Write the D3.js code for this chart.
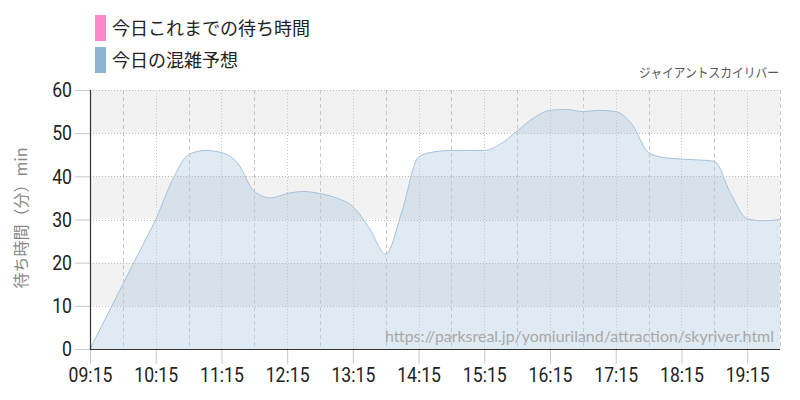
<!DOCTYPE html>
<html>
<head>
<meta charset="utf-8">
<script src="https://cdn.jsdelivr.net/npm/d3@7"></script>
<style>
  html, body { margin: 0; padding: 0; background: #fff; }
  svg { display: block; }
</style>
</head>
<body>
<div id="chart"></div>
<script>
// ---- data ----
const times = ["09:15","09:30","09:45","10:00","10:15","10:30","10:45","11:00","11:15","11:30","11:45","12:00","12:15","12:30","12:45","13:00","13:15","13:30","13:45","14:00","14:15","14:30","14:45","15:00","15:15","15:30","15:45","16:00","16:15","16:30","16:45","17:00","17:15","17:30","17:45","18:00","18:15","18:30","18:45","19:00","19:15","19:30","19:45"];
const forecast = [0,7.5,15,22.5,30,39,45,46,45.5,43,36.5,35,36,36.5,36,35,33,28,22,32,44.5,45.7,46,46,46,47.5,50.5,53.5,55.3,55.5,55,55.3,55,52,45.5,44.3,44,43.8,43.5,36,30.2,29.7,30];
const actual = []; // 今日これまでの待ち時間 (no data yet)
const xTickLabels = ["09:15","10:15","11:15","12:15","13:15","14:15","15:15","16:15","17:15","18:15","19:15"];
const yTicks = [0,10,20,30,40,50,60];
const legendLabels = ["今日これまでの待ち時間","今日の混雑予想"];
const legendColors = ["#ff88c8","#8fb2d0"];
const attractionName = "ジャイアントスカイリバー";
const sourceUrl = "https://parksreal.jp/yomiuriland/attraction/skyriver.html";
const yTitle = "待ち時間（分）min";

// ---- helpers ----
const toMin = s => { const [h,m] = s.split(":").map(Number); return h*60+m; };

const W = 800, H = 400;
const L = 90, R = 780, T = 90, B = 349;
const SX = 0.84; // horizontal condense of tick numbers

const svg = d3.select("#chart").append("svg").attr("width", W).attr("height", H);

const x = d3.scaleLinear().domain([toMin("09:15"), toMin("19:45")]).range([L, R]);
const y = d3.scaleLinear().domain([0, 60]).range([B, T]);

const numFont = "Roboto, sans-serif";
const jpFont = "'Noto Sans CJK JP', sans-serif";

// alternating bands
const bands = [[50,60],[30,40],[10,20]];
svg.append("g").selectAll("rect").data(bands).join("rect")
  .attr("x", L).attr("width", R - L)
  .attr("y", d => y(d[1])).attr("height", d => y(d[0]) - y(d[1]))
  .attr("fill", "#f2f2f2");

// area
const data = times.map((t,i) => ({t: toMin(t), v: forecast[i]}));
const area = d3.area().x(d => x(d.t)).y0(y(0)).y1(d => y(d.v)).curve(d3.curveMonotoneX);
const line = d3.line().x(d => x(d.t)).y(d => y(d.v)).curve(d3.curveMonotoneX);
svg.append("path").datum(data).attr("d", area)
  .attr("fill", "rgba(150,185,215,0.30)");
svg.append("path").datum(data).attr("d", line)
  .attr("fill", "none").attr("stroke", "#a6c2dc").attr("stroke-width", 1);

// vertical grid lines every 30 min
const gridTimes = d3.range(toMin("09:45"), toMin("19:45") + 1, 30);
svg.append("g").selectAll("line").data(gridTimes).join("line")
  .attr("x1", d => Math.round(x(d)) + 0.5).attr("x2", d => Math.round(x(d)) + 0.5)
  .attr("y1", T).attr("y2", B)
  .attr("stroke", "#c8c8c8").attr("stroke-width", 1)
  .attr("stroke-dasharray", d => ((d - toMin("09:15")) % 60 === 0) ? "1,2" : "4,3");

// horizontal grid lines
svg.append("g").selectAll("line").data(yTicks.filter(v => v > 0)).join("line")
  .attr("x1", L).attr("x2", R)
  .attr("y1", d => Math.round(y(d)) + 0.5).attr("y2", d => Math.round(y(d)) + 0.5)
  .attr("stroke", "#bdbdbd").attr("stroke-dasharray", "1,2");

// y axis
const yAxis = d3.axisLeft(y).tickValues(yTicks).tickSize(15).tickPadding(3).tickFormat(d3.format("d"));
const gy = svg.append("g").attr("transform", `translate(${L},0)`).call(yAxis);
gy.select(".domain").remove();
gy.selectAll(".tick line").attr("stroke", "#c8c8c8");
gy.selectAll(".tick text").attr("font-family", numFont).attr("font-size", 21).attr("fill", "#222")
  .attr("x", -18 / SX).attr("transform", `scale(${SX},1)`);

// x axis
const xAxis = d3.axisBottom(x).tickValues(xTickLabels.map(toMin)).tickSize(15).tickPadding(3)
  .tickFormat((d,i) => xTickLabels[i]);
const gx = svg.append("g").attr("transform", `translate(0,${B})`).call(xAxis);
gx.select(".domain").remove();
gx.selectAll(".tick line").attr("stroke", "#c8c8c8");
gx.selectAll(".tick text").attr("font-family", numFont).attr("font-size", 21).attr("fill", "#222")
  .attr("transform", `scale(${SX},1)`);

// axis lines
svg.append("line").attr("x1", L + 0.5).attr("x2", L + 0.5).attr("y1", T).attr("y2", B + 0.5)
  .attr("stroke", "#333").attr("stroke-width", 1.2);
svg.append("line").attr("x1", L).attr("x2", R).attr("y1", B + 0.5).attr("y2", B + 0.5)
  .attr("stroke", "#333").attr("stroke-width", 1.2);

// source url
svg.append("text").attr("x", 774).attr("y", 342).attr("text-anchor", "end")
  .attr("font-family", "Lato, 'Open Sans', sans-serif").attr("font-size", 16)
  .attr("textLength", 389).attr("lengthAdjust", "spacingAndGlyphs")
  .attr("fill", "#a8a8a8").text(sourceUrl);

// attraction name
svg.append("text").attr("x", 779).attr("y", 77).attr("text-anchor", "end")
  .attr("font-family", jpFont).attr("font-size", 13).attr("fill", "#555")
  .attr("textLength", 140).attr("lengthAdjust", "spacingAndGlyphs")
  .text(attractionName);

// y title
svg.append("text").attr("transform", "translate(27,218) rotate(-90)").attr("text-anchor", "middle")
  .attr("font-family", jpFont).attr("font-size", 16).attr("fill", "#888")
  .text(yTitle);

// legend
const lg = svg.append("g").selectAll("g").data(legendLabels).join("g")
  .attr("transform", (d,i) => `translate(95,${15 + i*32})`);
lg.append("rect").attr("width", 11).attr("height", 26).attr("fill", (d,i) => legendColors[i]);
lg.append("text").attr("x", 17).attr("y", 20)
  .attr("font-family", jpFont).attr("font-size", 18).attr("fill", "#222")
  .text(d => d);
</script>
</body>
</html>
